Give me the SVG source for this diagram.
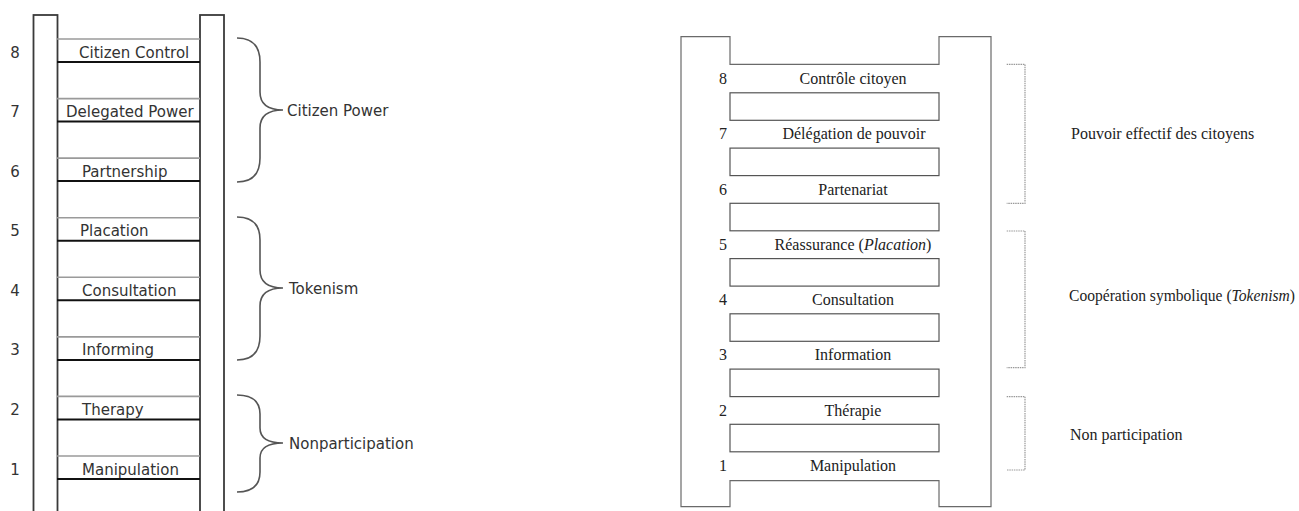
<svg xmlns="http://www.w3.org/2000/svg" width="1299" height="511" viewBox="0 0 1299 511">
<style>
.rail{fill:#fff;stroke:#3a3a3a;stroke-width:1.8}
.rg{stroke:#9a9a9a;stroke-width:1.6}
.rb{stroke:#111;stroke-width:2}
.lt{font-family:"DejaVu Sans",sans-serif;font-size:15px;fill:#333}
.ln{font-family:"DejaVu Sans",sans-serif;font-size:15px;fill:#333;text-anchor:middle}
.brace{fill:none;stroke:#555;stroke-width:1.6}
.out{fill:none;stroke:#6a6a6a;stroke-width:1.2}
.step{fill:#fff;stroke:#555;stroke-width:1.2}
.rt{font-family:"Liberation Serif",serif;font-size:16px;fill:#222;text-anchor:middle}
.rn{font-family:"Liberation Serif",serif;font-size:16px;fill:#222;text-anchor:middle}
.gl{font-family:"Liberation Serif",serif;font-size:16px;fill:#222}
.bk{fill:none;stroke:#999;stroke-width:1.2;stroke-dasharray:1.5 0.8}
</style>
<rect width="1299" height="511" fill="#fff"/>

<g id="ladder-en">
  <rect class="rail" x="33.5" y="15" width="24" height="510"/>
  <rect class="rail" x="200" y="15" width="24" height="510"/>
</g>

<g id="rung-en-8"><line class="rg" x1="57" y1="39" x2="200" y2="39"/><line class="rb" x1="57" y1="62" x2="200" y2="62"/><text class="ln" x="15" y="57.5">8</text><text class="lt" x="79" y="57.5">Citizen Control</text></g>
<g id="rung-en-7"><line class="rg" x1="57" y1="98.6" x2="200" y2="98.6"/><line class="rb" x1="57" y1="121.6" x2="200" y2="121.6"/><text class="ln" x="15" y="117.1">7</text><text class="lt" x="66" y="117.1">Delegated Power</text></g>
<g id="rung-en-6"><line class="rg" x1="57" y1="158.1" x2="200" y2="158.1"/><line class="rb" x1="57" y1="181.1" x2="200" y2="181.1"/><text class="ln" x="15" y="176.6">6</text><text class="lt" x="82" y="176.6">Partnership</text></g>
<g id="rung-en-5"><line class="rg" x1="57" y1="217.7" x2="200" y2="217.7"/><line class="rb" x1="57" y1="240.7" x2="200" y2="240.7"/><text class="ln" x="15" y="236.2">5</text><text class="lt" x="80" y="236.2">Placation</text></g>
<g id="rung-en-4"><line class="rg" x1="57" y1="277.3" x2="200" y2="277.3"/><line class="rb" x1="57" y1="300.3" x2="200" y2="300.3"/><text class="ln" x="15" y="295.8">4</text><text class="lt" x="82" y="295.8">Consultation</text></g>
<g id="rung-en-3"><line class="rg" x1="57" y1="336.9" x2="200" y2="336.9"/><line class="rb" x1="57" y1="359.9" x2="200" y2="359.9"/><text class="ln" x="15" y="355.4">3</text><text class="lt" x="82" y="355.4">Informing</text></g>
<g id="rung-en-2"><line class="rg" x1="57" y1="396.4" x2="200" y2="396.4"/><line class="rb" x1="57" y1="419.4" x2="200" y2="419.4"/><text class="ln" x="15" y="414.9">2</text><text class="lt" x="82" y="414.9">Therapy</text></g>
<g id="rung-en-1"><line class="rg" x1="57" y1="456" x2="200" y2="456"/><line class="rb" x1="57" y1="479" x2="200" y2="479"/><text class="ln" x="15" y="474.5">1</text><text class="lt" x="82" y="474.5">Manipulation</text></g>

<g id="group-en-citizen-power">
  <path class="brace" d="M237,38 Q260,38 260,62 L260,92 Q260,110 283,110 Q260,110 260,128 L260,158 Q260,182 237,182"/>
  <text class="lt" x="287" y="116">Citizen Power</text>
</g>
<g id="group-en-tokenism">
  <path class="brace" d="M237,217 Q260,217 260,240 L260,270 Q260,288 283,288 Q260,288 260,306 L260,336 Q260,360 237,360"/>
  <text class="lt" x="289" y="294">Tokenism</text>
</g>
<g id="group-en-nonparticipation">
  <path class="brace" d="M237,395 Q260,395 260,414 L260,428 Q260,443 283,443 Q260,443 260,458 L260,472 Q260,492 237,492"/>
  <text class="lt" x="289" y="449">Nonparticipation</text>
</g>

<g id="ladder-fr">
  <path class="out" d="M681,36.7 L730,36.7 L730,64.3 L939,64.3 L939,36.7 L991,36.7 L991,506.7 L939,506.7 L939,480.7 L730,480.7 L730,506.7 L681,506.7 Z"/>
</g>

<g id="rung-fr-8"><text class="rn" x="723" y="84">8</text><text class="rt" x="853" y="84">Contrôle citoyen</text><rect class="step" x="730" y="92.8" width="209" height="27.5"/></g>
<g id="rung-fr-7"><text class="rn" x="723" y="139.3">7</text><text class="rt" x="854" y="139.3">Délégation de pouvoir</text><rect class="step" x="730" y="148.1" width="209" height="27.5"/></g>
<g id="rung-fr-6"><text class="rn" x="723" y="194.5">6</text><text class="rt" x="853" y="194.5">Partenariat</text><rect class="step" x="730" y="203.3" width="209" height="27.5"/></g>
<g id="rung-fr-5"><text class="rn" x="723" y="249.8">5</text><text class="rt" x="853" y="249.8">Réassurance (<tspan font-style="italic">Placation</tspan>)</text><rect class="step" x="730" y="258.6" width="209" height="27.5"/></g>
<g id="rung-fr-4"><text class="rn" x="723" y="305">4</text><text class="rt" x="853" y="305">Consultation</text><rect class="step" x="730" y="313.8" width="209" height="27.5"/></g>
<g id="rung-fr-3"><text class="rn" x="723" y="360.3">3</text><text class="rt" x="853" y="360.3">Information</text><rect class="step" x="730" y="369.1" width="209" height="27.5"/></g>
<g id="rung-fr-2"><text class="rn" x="723" y="415.5">2</text><text class="rt" x="853" y="415.5">Thérapie</text><rect class="step" x="730" y="424.3" width="209" height="27.5"/></g>
<g id="rung-fr-1"><text class="rn" x="723" y="470.8">1</text><text class="rt" x="853" y="470.8">Manipulation</text></g>

<g id="group-fr-pouvoir">
  <path class="bk" d="M1006.7,64.3 L1025,64.3 L1025,203.3 L1006.7,203.3"/>
  <text class="gl" x="1071" y="139">Pouvoir effectif des citoyens</text>
</g>
<g id="group-fr-cooperation">
  <path class="bk" d="M1006.7,231 L1025,231 L1025,367.7 L1006.7,367.7"/>
  <text class="gl" x="1069" y="300.7" textLength="226" lengthAdjust="spacingAndGlyphs">Coopération symbolique (<tspan font-style="italic">Tokenism</tspan>)</text>
</g>
<g id="group-fr-non">
  <path class="bk" d="M1006.7,396.7 L1025,396.7 L1025,470 L1006.7,470"/>
  <text class="gl" x="1070" y="440">Non participation</text>
</g>
</svg>
